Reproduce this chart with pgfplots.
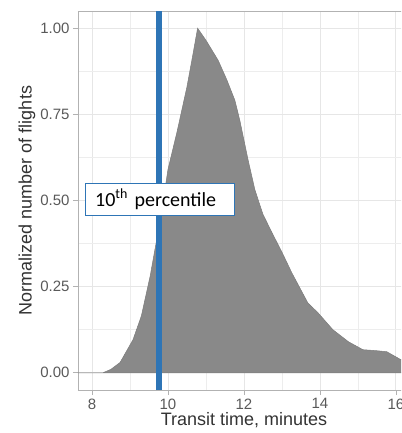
\documentclass[border=0pt]{standalone}
\usepackage{fontspec}
\setmainfont{Liberation Sans}
\newfontfamily\carlito{Carlito}
\usepackage{pgfplots}
\pgfplotsset{compat=1.18}

\definecolor{gridc}{RGB}{230,230,230}
\definecolor{framec}{RGB}{178,178,178}
\definecolor{areac}{RGB}{137,137,137}
\definecolor{bl}{RGB}{46,117,182}

\begin{document}
\begin{tikzpicture}
  % crop like the reference: the right part of the panel is cut off
  \path[use as bounding box, clip] (-78pt,-43pt) rectangle (323pt,390pt);
  \begin{axis}[
    scale only axis,
    width=332pt, height=379pt,
    xmin=7.632, xmax=16.37,
    ymin=-0.05, ymax=1.05,
    axis x line=box, axis y line=left,
    axis line style={-, draw=framec, line width=0.8pt},
    xtick={8,10,12,14,16},
    ytick={0,0.25,0.5,0.75,1},
    minor xtick={9,11,13,15},
    minor ytick={0.125,0.375,0.625,0.875},
    xtick pos=bottom,
    grid=both,
    major grid style={gridc, line width=0.9pt},
    minor grid style={gridc!70, line width=0.5pt},
    tick align=outside,
    major tick length=5pt, minor tick length=0pt,
    tick style={framec, line width=0.8pt},
    yticklabel style={/pgf/number format/fixed, /pgf/number format/fixed zerofill, /pgf/number format/precision=2},
    /pgf/number format/assume math mode=true,
    ticklabel style={font=\fontsize{15}{18}\selectfont, text=black!65},
    xlabel={Transit time, minutes},
    ylabel={Normalized number of flights},
    every axis x label/.style={at={([yshift=-30pt]axis description cs:0.5,0)}, anchor=center,
      font=\fontsize{18}{21}\selectfont, text=black!80},
    every axis y label/.style={at={([xshift=-51pt]axis description cs:0,0.5)}, anchor=center, rotate=90,
      font=\fontsize{18}{21}\selectfont, text=black!80},
  ]
    \addplot[fill=areac, draw=areac!90!black, line width=0.5pt] coordinates {
      (7.5,0) (8.29,0) (8.5,0.01) (8.74,0.03) (9.08,0.096) (9.3,0.165)
      (9.53,0.28) (9.71,0.39) (9.85,0.48) (10.0,0.59) (10.24,0.70)
      (10.5,0.83) (10.65,0.92) (10.78,1.0) (11.0,0.965) (11.32,0.907)
      (11.55,0.85) (11.76,0.791) (11.89,0.733) (12.11,0.617) (12.29,0.530)
      (12.5,0.46) (12.74,0.406) (13.0,0.35) (13.26,0.290) (13.68,0.203)
      (13.95,0.174) (14.34,0.125) (14.75,0.09) (15.13,0.067)
      (15.5,0.064) (15.76,0.061) (16.13,0.038) (16.4,0.03) (16.4,0) (7.5,0)
    } \closedcycle;
    \addplot[draw=bl, line width=6pt] coordinates {(9.76,-0.05) (9.76,1.05)};
    \node[draw=bl, fill=white, line width=0.8pt, minimum width=149pt,
      minimum height=32pt, text width=129pt, inner xsep=10pt, align=left,
      font=\carlito\fontsize{20}{24}\selectfont] at (axis cs:9.78,0.504)
      {10\textsuperscript{th} percentile};
  \end{axis}
\end{tikzpicture}
\end{document}
